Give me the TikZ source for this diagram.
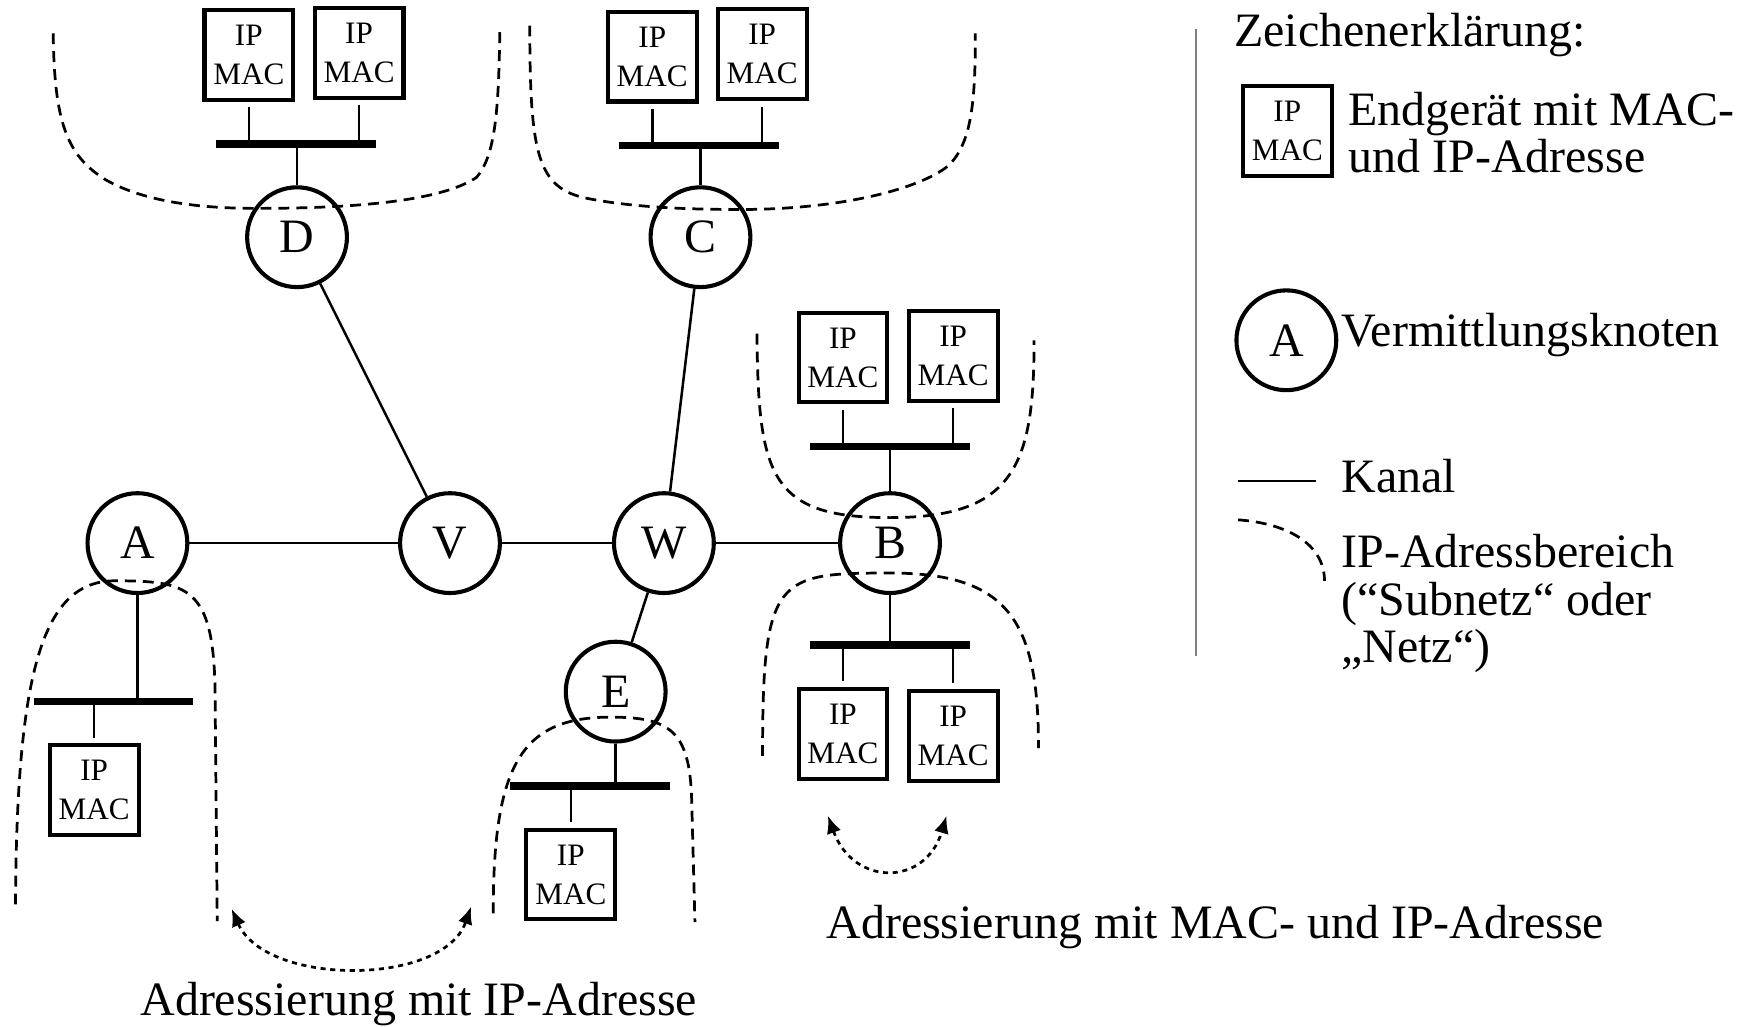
\documentclass[tikz,border=0pt]{standalone}
\usepackage{fontspec}
\setmainfont{Liberation Serif}
\usetikzlibrary{arrows.meta}
\newcommand\mainfs{\fontsize{12.3}{12.6}\selectfont}
\newcommand\devfs{\fontsize{8}{10}\selectfont}
\begin{document}
\begin{tikzpicture}[x=0.01cm,y=-0.01cm,
  dev/.style={draw,line width=1.05pt,minimum width=8.0mm,minimum height=8.1mm,inner sep=0pt,align=center,font=\devfs},
  sw/.style={circle,draw,line width=1.05pt,minimum size=9.0mm,inner sep=0pt,font=\mainfs},
  bus/.style={rectangle,fill=black,inner sep=0pt,minimum height=1.9pt,minimum width=14.4mm},
  chan/.style={line width=0.65pt},
  subnet/.style={line width=0.7pt,dash pattern=on 2.8pt off 1.8pt},
  addr/.style={line width=0.7pt,dash pattern=on 1.3pt off 1.2pt,{Latex[length=4.5pt,width=3.8pt]}-{Latex[length=4.5pt,width=3.8pt]}},
  txt/.style={inner sep=0pt,anchor=base west,font=\mainfs}
]
\useasboundingbox (0,0) rectangle (1569,926);

% D subnet
\node[dev] (dD1) at (224.5,49.5) {IP\\MAC};
\node[dev] (dD2) at (324,47.5) {IP\\MAC};
\node[bus] (busD) at (267,130) {};
\node[sw] (D) at (268,214) {D};
% C subnet
\node[dev] (dC1) at (588.5,51) {IP\\MAC};
\node[dev] (dC2) at (687.7,49) {IP\\MAC};
\node[bus] (busC) at (630.7,131) {};
\node[sw] (C) at (632,214) {C};
% B subnets
\node[dev] (dB1) at (760.5,322.5) {IP\\MAC};
\node[dev] (dB2) at (860,321) {IP\\MAC};
\node[bus] (busB1) at (803,403) {};
\node[sw] (B) at (803,490) {B};
\node[bus] (busB2) at (803,582) {};
\node[dev] (dB3) at (760.5,662) {IP\\MAC};
\node[dev] (dB4) at (860,664) {IP\\MAC};
% A subnet
\node[sw] (A) at (124,490) {A};
\node[bus] (busA) at (102.5,633) {};
\node[dev] (dA) at (85,713) {IP\\MAC};
% E subnet
\node[sw] (E) at (555.5,624) {E};
\node[bus] (busE) at (532.5,709) {};
\node[dev] (dE) at (515,789) {IP\\MAC};
% core
\node[sw] (V) at (406,490) {V};
\node[sw] (W) at (599,490) {W};

% channels
\draw[chan] (A) -- (V);
\draw[chan] (V) -- (W);
\draw[chan] (W) -- (B);
\draw[chan] (D) -- (V);
\draw[chan] (C) -- (W);
\draw[chan] (W) -- (E);

% node to bus
\draw[chan] (D.north) -- (D.north |- busD.center);
\draw[chan] (C.north) -- (C.north |- busC.center);
\draw[chan] (B.north) -- (B.north |- busB1.center);
\draw[chan] (B.south) -- (B.south |- busB2.center);
\draw[chan] (A.south) -- (A.south |- busA.center);
\draw[chan] (E.south) -- (E.south |- busE.center);

% devices to bus
\foreach \d/\b in {dD1/busD,dD2/busD,dC1/busC,dC2/busC,dB1/busB1,dB2/busB1}
  \draw[chan,shorten >=0.5mm] (\d.south |- \b.center) -- (\d.south);
\foreach \d/\b in {dB3/busB2,dB4/busB2,dA/busA,dE/busE}
  \draw[chan,shorten >=0.5mm] (\d.north |- \b.center) -- (\d.north);

% subnet borders
\draw[subnet] (48,30) .. controls (49,110) and (60,140) .. (95,162) .. controls (130,182) and (180,188) .. (231,188) .. controls (330,188) and (400,180) .. (430,160) .. controls (447,140) and (450,100) .. (451,24);
\draw[subnet] (478,23) .. controls (478,140) and (485,170) .. (530,179) .. controls (570,187) and (620,189) .. (668,189) .. controls (760,189) and (830,170) .. (855,150) .. controls (877,130) and (880,90) .. (880,30);
\draw[subnet] (683,301) .. controls (684,430) and (695,467) .. (803,467) .. controls (915,467) and (933,420) .. (933,307);
\draw[subnet] (688,682) .. controls (688,520) and (700,517) .. (803,517) .. controls (910,517) and (937,560) .. (937,675);
\draw[subnet] (14,816) .. controls (15,600) and (40,524) .. (104,524) .. controls (170,524) and (192,530) .. (194,620) -- (196,831);
\draw[subnet] (445,824) .. controls (445,690) and (470,647) .. (551,647) .. controls (605,647) and (622,660) .. (624,720) -- (627,832);

% addressing arrows
\coordinate (a1) at (209,820);
\coordinate (a2) at (425,818);
\coordinate (b1) at (747,736);
\coordinate (b2) at (854,736);
\draw[addr] (a1) .. controls (240,890) and (400,890) .. (a2);
\draw[addr] (b1) .. controls (770,800) and (835,800) .. (b2);
\node[txt] (t1) at (126,916) {Adressierung mit IP-Adresse};
\node[txt] (t2) at (745,847) {Adressierung mit MAC- und IP-Adresse};

% legend
\coordinate (lt) at (1079.5,26);
\coordinate (lb) at (1079.5,592);
\draw[gray,line width=0.5pt] (lt) -- (lb);
\node[txt] (lz) at (1113,42) {Zeichenerklärung:};
\node[dev] (ldev) at (1161.5,118) {IP\\MAC};
\node[txt] (le1) at (1216,113) {Endgerät mit MAC-};
\node[txt] (le2) at (1216,156) {und IP-Adresse};
\node[sw] (lsw) at (1160.6,307) {A};
\node[txt] (lv) at (1209.6,313) {Vermittlungsknoten};
\coordinate (lk1) at (1116.6,434);
\coordinate (lk2) at (1187,434);
\draw[chan] (lk1) -- (lk2);
\node[txt] (lk) at (1209.6,444) {Kanal};
\coordinate (ls1) at (1117,469);
\coordinate (ls2) at (1195,524);
\draw[subnet] (ls1) .. controls (1160,472) and (1195,490) .. (ls2);
\node[txt] (li1) at (1209.6,512) {IP-Adressbereich};
\node[txt] (li2) at (1209.6,555) {(“Subnetz“ oder};
\node[txt] (li3) at (1209.6,598) {„Netz“)};
\end{tikzpicture}
\end{document}
